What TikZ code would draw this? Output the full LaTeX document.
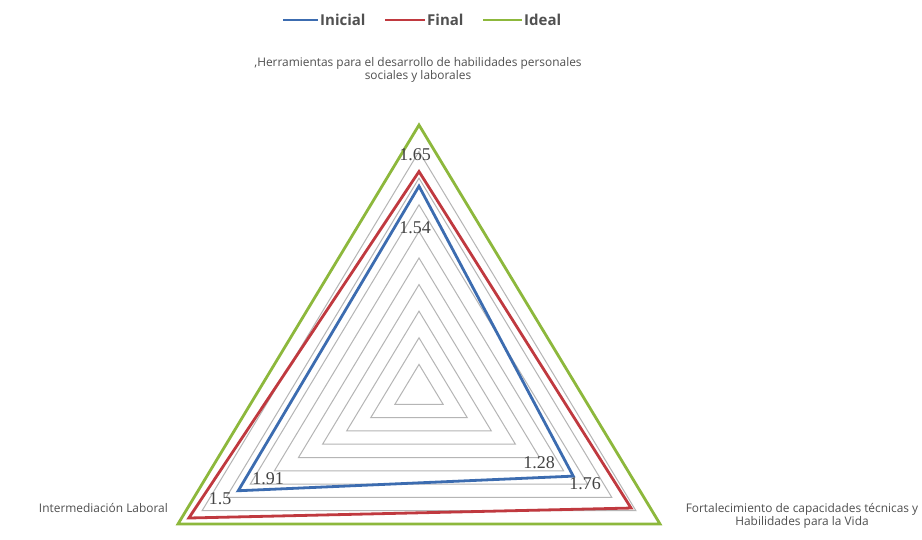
\documentclass[tikz,border=0pt]{standalone}
\usepackage{fontspec}
\setmainfont{Open Sans}
\newfontfamily\numfont{Liberation Serif}
\definecolor{cIni}{HTML}{3C6CB0}
\definecolor{cFin}{HTML}{C0393F}
\definecolor{cIde}{HTML}{8DB83C}
\definecolor{cTxt}{HTML}{505050}
\definecolor{cGrid}{HTML}{B5B5B5}
\tikzset{
  gridline/.style={draw=cGrid, line width=1},
  series/.style={line width=2.8, line join=miter},
  catlabel/.style={font=\fontsize{11.9}{13}\selectfont, text=cTxt, inner sep=0, align=center},
  datalabel/.style={font=\numfont\fontsize{18}{18}\selectfont, text=cTxt!85!black, inner sep=0},
  legtext/.style={font=\bfseries\fontsize{15}{15}\selectfont, text=cTxt, inner sep=0, anchor=west},
}
\begin{document}
\begin{tikzpicture}[x=1pt,y=-1pt]
\useasboundingbox (0,0) rectangle (922,540);
\fill[white] (0,0) rectangle (922,540);
% grid
\foreach \k in {1,...,10}{
  \draw[gridline] ({419},{391-26.6*\k}) -- ({419+24.1*\k},{391+13.3*\k}) -- ({419-24.1*\k},{391+13.3*\k}) -- cycle;
}
% series vertices: top, right, left
\coordinate (iT) at ({419},{391-266*0.77});
\coordinate (iR) at ({419+241*0.64},{391+133*0.64});
\coordinate (iL) at ({419-241*0.75},{391+133*0.75});
\coordinate (fT) at ({419},{391-266*0.825});
\coordinate (fR) at ({419+241*0.88},{391+133*0.88});
\coordinate (fL) at ({419-241*0.955},{391+133*0.955});
\coordinate (dT) at ({419},{391-266});
\coordinate (dR) at ({419+241},{391+133});
\coordinate (dL) at ({419-241},{391+133});
\draw[series, cIde] (dT) -- (dR) -- (dL) -- cycle;
\draw[series, cFin] (fT) -- (fR) -- (fL) -- cycle;
\draw[series, cIni] (iT) -- (iR) -- (iL) -- cycle;
% data labels
\node[datalabel] (l165) at (415,155) {1.65};
\node[datalabel] (l154) at (415,228) {1.54};
\node[datalabel] (l191) at (268,479) {1.91};
\node[datalabel] (l15) at (220,499) {1.5};
\node[datalabel] (l128) at (539,463) {1.28};
\node[datalabel] (l176) at (585,484) {1.76};
% category labels
\node[catlabel] (cTop) at (418,70) {,Herramientas para el desarrollo de habilidades personales\\sociales y laborales};
\node[catlabel, anchor=east] (cLeft) at (168,508) {Intermediación Laboral};
\node[catlabel] (cRight) at (802,516) {Fortalecimiento de capacidades técnicas y\\Habilidades para la Vida};
% legend
\coordinate (a1) at (283,20); \coordinate (b1) at (318,20);
\coordinate (a2) at (385,20); \coordinate (b2) at (425,20);
\coordinate (a3) at (483,20); \coordinate (b3) at (522,20);
\draw[series, cIni] (a1) -- (b1);
\draw[series, cFin] (a2) -- (b2);
\draw[series, cIde] (a3) -- (b3);
\node[legtext] (t1) at (320,20) {Inicial};
\node[legtext] (t2) at (427,20) {Final};
\node[legtext] (t3) at (524,20) {Ideal};
\end{tikzpicture}
\end{document}
